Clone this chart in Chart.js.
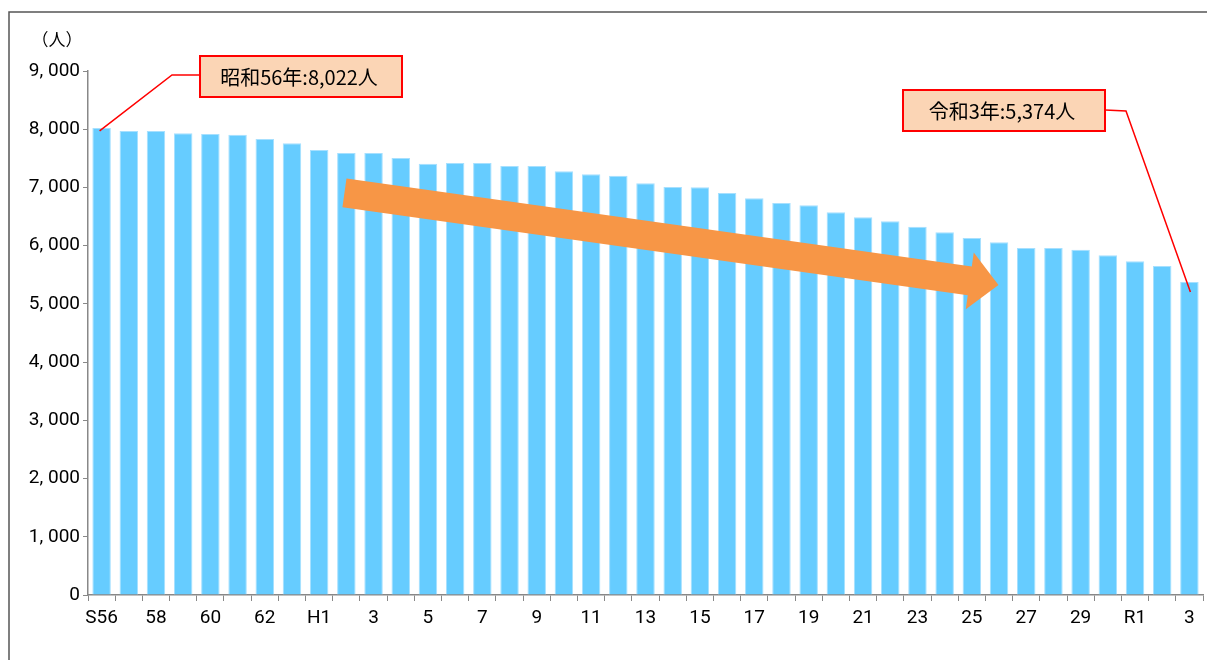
<!DOCTYPE html>
<html>
<head>
<meta charset="utf-8">
<script src="https://cdn.jsdelivr.net/npm/chart.js@4.4.1/dist/chart.umd.min.js"></script>
<style>
html, body { margin: 0; padding: 0; background: #fff; }
</style>
</head>
<body>
<canvas id="myChart" width="1207" height="660"></canvas>
<script>
// 年度 (S56 - R3)
let years = ['S56','S57','S58','S59','S60','S61','S62','S63',
    'H1','H2','H3','H4','H5','H6','H7','H8','H9','H10','H11','H12',
    'H13','H14','H15','H16','H17','H18','H19','H20','H21','H22','H23',
    'H24','H25','H26','H27','H28','H29','H30','R1','R2','R3'];

let people = [8022, 7970, 7970, 7930, 7918, 7907, 7832, 7758, 7643, 7592,
    7592, 7506, 7408, 7418, 7418, 7369, 7369, 7277, 7226, 7202,
    7071, 7008, 7003, 6905, 6814, 6733, 6693, 6573, 6487, 6418,
    6326, 6229, 6132, 6057, 5960, 5960, 5931, 5834, 5731, 5651, 5374];

let xTickLabels = ['S56','','58','','60','','62','','H1','','3','','5','','7','',
    '9','','11','','13','','15','','17','','19','','21','','23','','25','',
    '27','','29','','R1','','3'];

let yTicks = [0, 1000, 2000, 3000, 4000, 5000, 6000, 7000, 8000, 9000];

let unitLabel = '（人）';
let firstNote = '昭和56年:8,022人';
let lastNote = '令和3年:5,374人';

// arrow from / to (category index, value)
let arrowFrom = { x: 8.93, y: 6905 };
let arrowTo = { x: 32.98, y: 5325 };

const tickFont = "'Liberation Sans Narrow', Roboto, sans-serif";
const jpFont = "'Noto Sans CJK JP', sans-serif";

function fmt(v) {
    if (v < 1000) return String(v);
    let s = String(v);
    return s.slice(0, s.length - 3) + ', ' + s.slice(s.length - 3);
}

const decoPlugin = {
    id: 'deco',
    beforeDraw(chart) {
        let c = chart.ctx;
        c.save();
        c.fillStyle = '#fff';
        c.fillRect(0, 0, chart.width, chart.height);
        // frame
        c.strokeStyle = '#555';
        c.lineWidth = 1.5;
        c.beginPath();
        c.moveTo(9, 660);
        c.lineTo(9, 12);
        c.lineTo(1207, 12);
        c.stroke();
        // unit
        c.fillStyle = '#000';
        c.font = '17px ' + jpFont;
        c.textAlign = 'center';
        c.textBaseline = 'middle';
        c.fillText(unitLabel, 57, 40);
        c.restore();
    },
    afterDatasetsDraw(chart) {
        let c = chart.ctx;
        let xs = chart.scales.x, ys = chart.scales.y;
        let x0 = xs.getPixelForValue(arrowFrom.x), y0 = ys.getPixelForValue(arrowFrom.y);
        let x1 = xs.getPixelForValue(arrowTo.x), y1 = ys.getPixelForValue(arrowTo.y);
        let len = Math.hypot(x1 - x0, y1 - y0);
        let ux = (x1 - x0) / len, uy = (y1 - y0) / len;
        let nx = -uy, ny = ux;
        let sw = 14.5, hw = 28.6, hl = 29;
        let bx = x1 - ux * hl, by = y1 - uy * hl;
        c.save();
        c.fillStyle = '#F79646';
        c.beginPath();
        c.moveTo(x0 + nx * sw, y0 + ny * sw);
        c.lineTo(bx + nx * sw, by + ny * sw);
        c.lineTo(bx + nx * hw, by + ny * hw);
        c.lineTo(x1, y1);
        c.lineTo(bx - nx * hw, by - ny * hw);
        c.lineTo(bx - nx * sw, by - ny * sw);
        c.lineTo(x0 - nx * sw, y0 - ny * sw);
        c.closePath();
        c.fill();
        c.restore();

        // callouts
        let bars = chart.getDatasetMeta(0).data;
        let first = bars[0], last = bars[bars.length - 1];
        drawCallout(c, 200, 56, 202, 41, firstNote,
            [[200, 75], [172, 75], [first.x - 2, first.y + 3]]);
        drawCallout(c, 903, 90, 202, 41, lastNote,
            [[1105, 110], [1126, 111], [last.x + 1, last.y + 10]]);
    }
};

function drawCallout(c, x, y, w, h, text, pts) {
    c.save();
    c.strokeStyle = '#FF0000';
    c.lineWidth = 1.5;
    c.beginPath();
    c.moveTo(pts[0][0], pts[0][1]);
    for (let i = 1; i < pts.length; i++) c.lineTo(pts[i][0], pts[i][1]);
    c.stroke();
    c.fillStyle = '#FBD5B5';
    c.fillRect(x, y, w, h);
    c.lineWidth = 2;
    c.strokeRect(x, y, w, h);
    c.fillStyle = '#000';
    c.font = '20px ' + jpFont;
    c.textAlign = 'center';
    c.textBaseline = 'middle';
    c.fillText(text, x + w / 2 - 2, y + h / 2 + 1);
    c.restore();
}

let ctx = document.getElementById('myChart').getContext('2d');
let chart = new Chart(ctx, {
    type: 'bar',
    data: {
        labels: years,
        datasets: [{
            data: people,
            backgroundColor: '#66CCFF',
            borderColor: '#A6E0FF',
            borderWidth: { top: 1, left: 1, right: 1, bottom: 0 },
            barPercentage: 0.68,
            categoryPercentage: 1
        }]
    },
    options: {
        responsive: false,
        animation: false,
        devicePixelRatio: 1,
        layout: { padding: { left: 0, top: 71, right: 4, bottom: 0 } },
        plugins: {
            legend: { display: false },
            tooltip: { enabled: false }
        },
        scales: {
            x: {
                afterFit: function(scale) { scale.height = 65; },
                grid: {
                    drawOnChartArea: false,
                    tickLength: 6,
                    color: '#888',
                    offset: true
                },
                border: { color: '#888', width: 1.5 },
                ticks: {
                    autoSkip: false,
                    maxRotation: 0,
                    padding: 6,
                    color: '#000',
                    font: { family: tickFont, size: 19 },
                    callback: function(v, i) { return xTickLabels[i]; }
                }
            },
            y: {
                min: 0,
                max: 9000,
                afterFit: function(scale) { scale.width = 88; },
                afterBuildTicks: function(scale) {
                    scale.ticks = yTicks.map(v => ({ value: v }));
                },
                grid: {
                    drawOnChartArea: false,
                    tickLength: 5,
                    color: '#888'
                },
                border: { color: '#888', width: 1.5 },
                ticks: {
                    padding: 3,
                    color: '#000',
                    font: { family: tickFont, size: 19 },
                    callback: function(v) { return fmt(v); }
                }
            }
        }
    },
    plugins: [decoPlugin]
});
</script>
</body>
</html>
